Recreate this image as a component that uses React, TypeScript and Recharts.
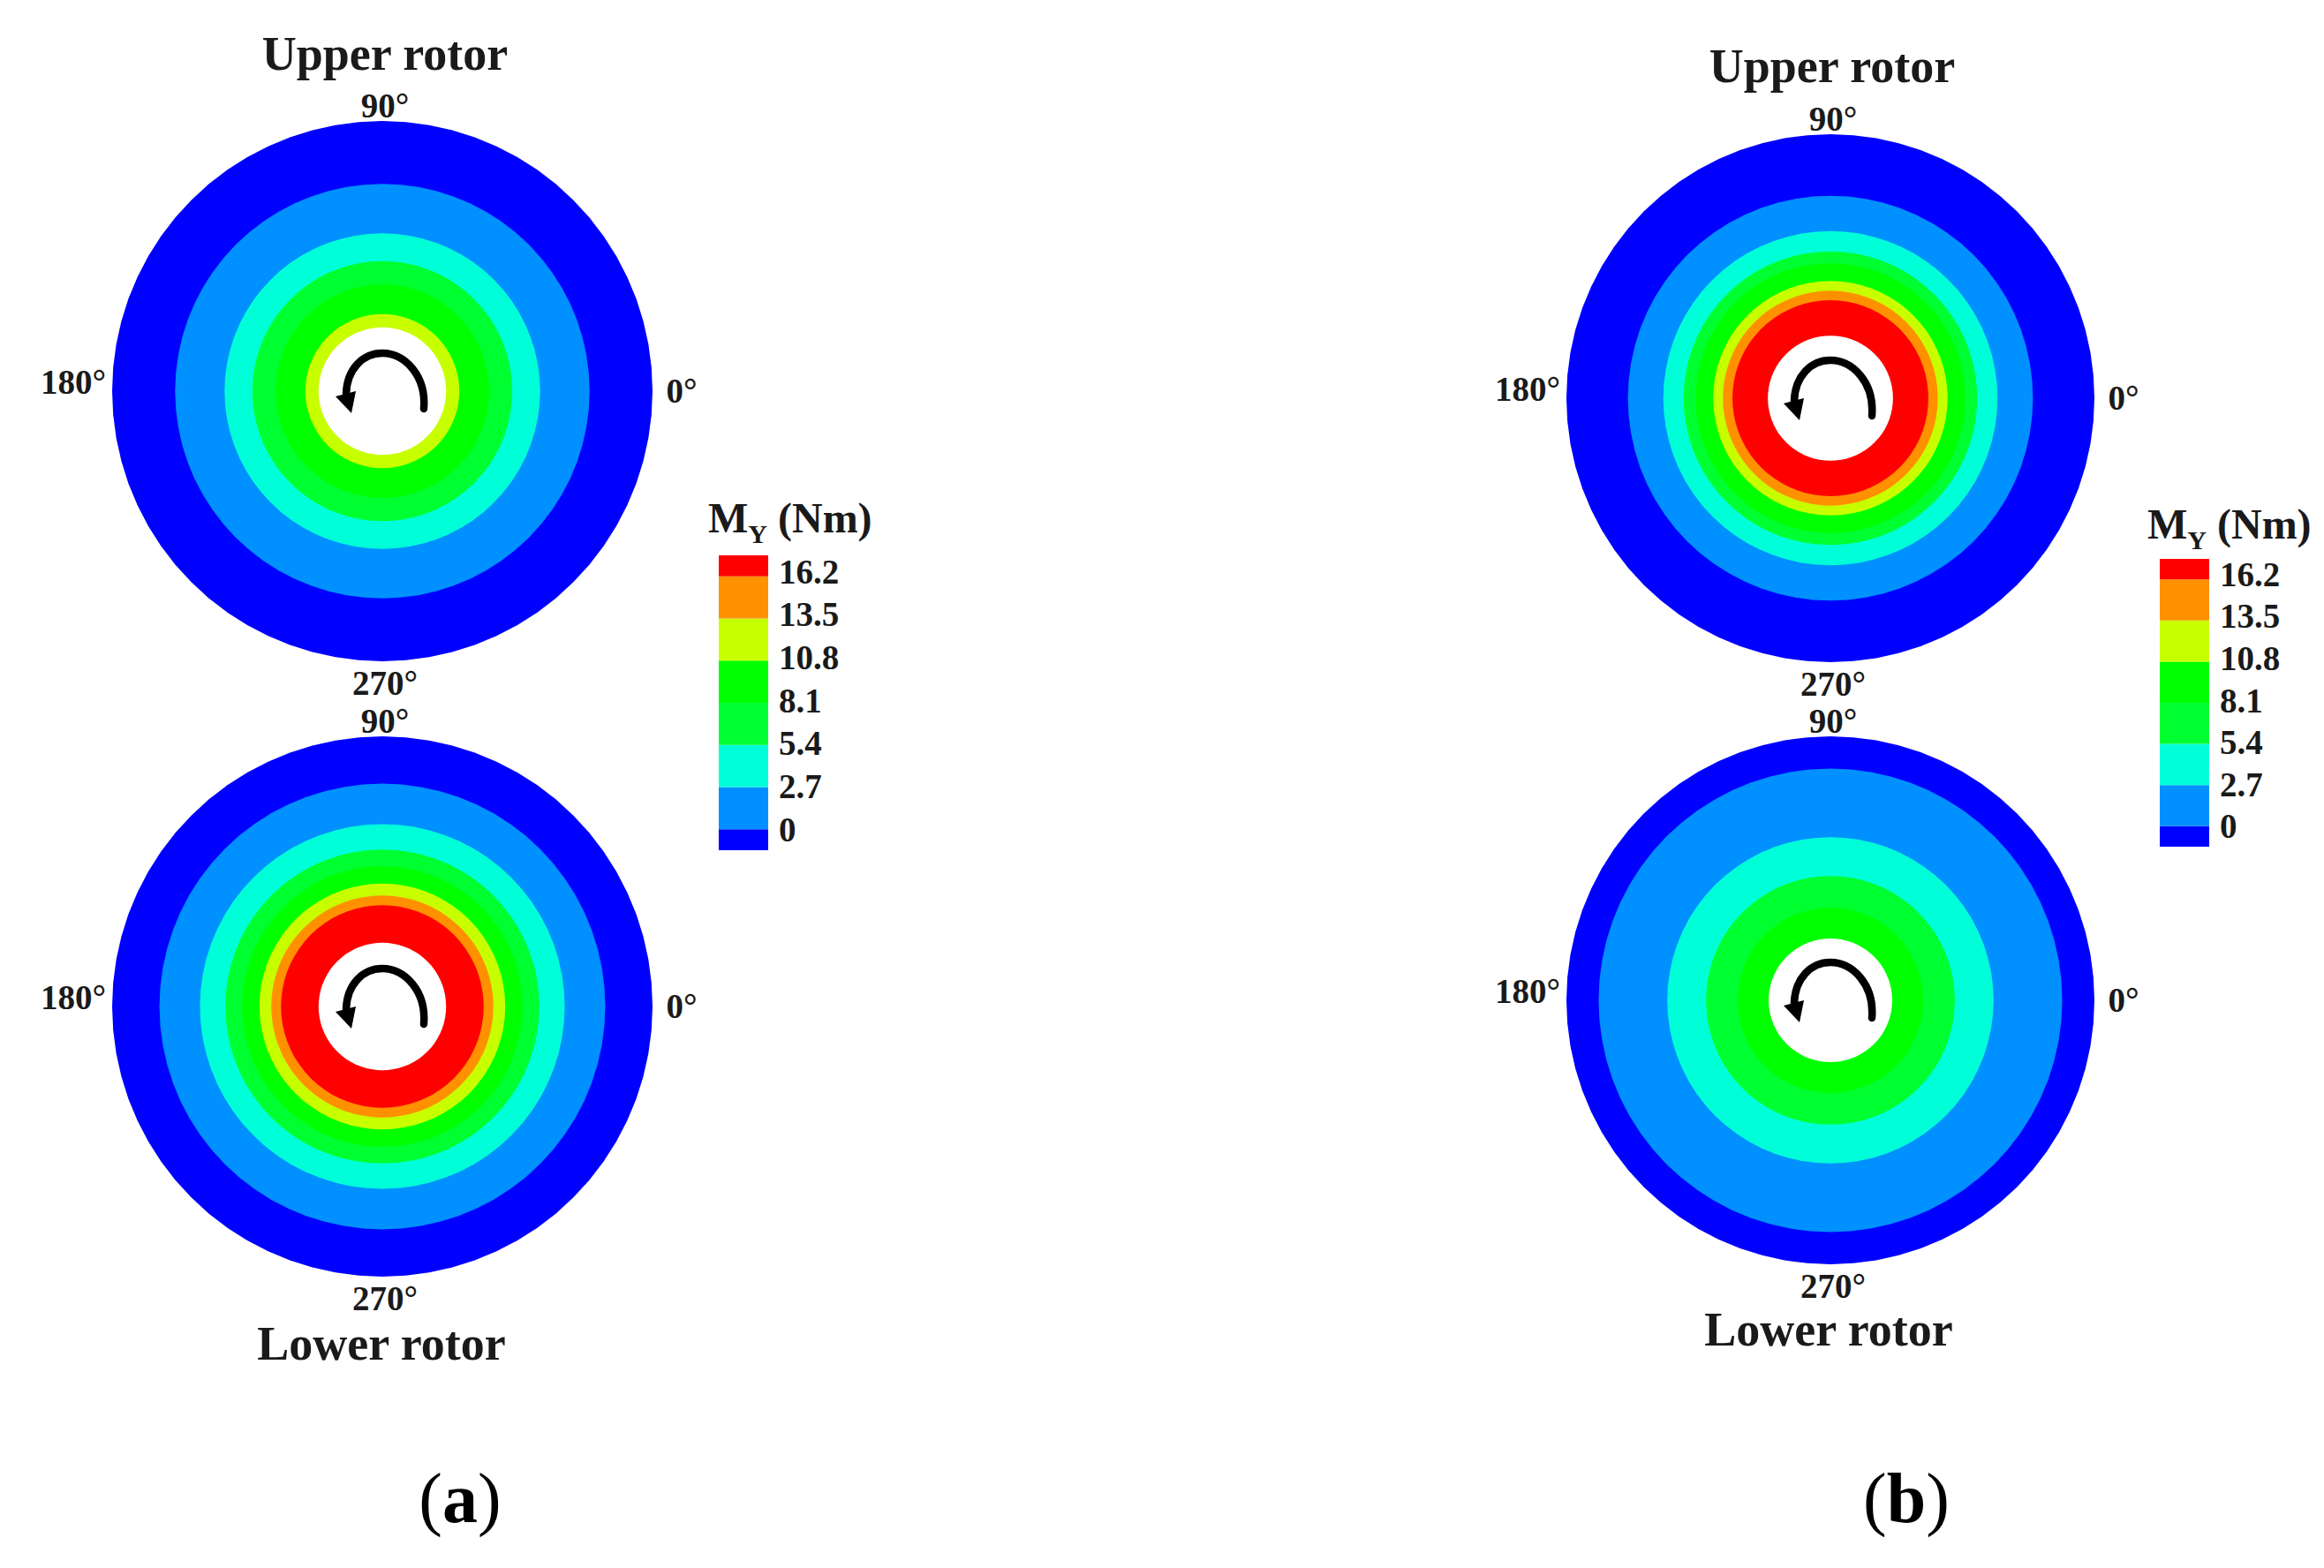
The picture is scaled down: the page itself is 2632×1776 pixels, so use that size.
import { Bar, BarChart, PolarAngleAxis, PolarRadiusAxis, Radar, RadarChart, XAxis, YAxis } from 'recharts';

const SERIF = '"Liberation Serif", serif';

// contour bands, lowest level first
const bandColors = ['#0000ff', '#0090ff', '#00ffd8', '#00ff30', '#00ff00', '#c8ff00', '#ff9000', '#ff0000'];

// outer edge of each band as r / R, last entry is the hub
const upperA = [1, 0.767, 0.584, 0.481, 0.395, 0.285, null, null, 0.236];
const lowerA = [1, 0.825, 0.675, 0.581, 0.519, 0.455, 0.411, 0.375, 0.236];
const upperB = [1, 0.767, 0.633, 0.556, 0.511, 0.444, 0.407, 0.371, 0.237];
const lowerB = [1, 0.878, 0.618, 0.471, 0.351, null, null, null, 0.234];

const azimuths = Array.from({ length: 72 }, (_, i) => i * 5);

// colour bar: half bands at both ends
const legendKeys = ['m0', 'm1', 'm2', 'm3', 'm4', 'm5', 'm6', 'm7'];
const legendWidths = [-1.35, 2.7, 2.7, 2.7, 2.7, 2.7, 2.7, 1.35];
const legendTicks = [0, 2.7, 5.4, 8.1, 10.8, 13.5, 16.2];

const labelShift: Record<number, [number, number]> = {
  0: [25, -1],
  90: [3, -10],
  180: [-36, -11],
  270: [3, 16],
};

const AzimuthTick = (props: any) => {
  const shift = labelShift[props.payload.value];
  if (!shift) return <g />;
  return (
    <text
      x={props.x + shift[0]}
      y={props.y + shift[1]}
      textAnchor="middle"
      dominantBaseline="central"
      fontFamily={SERIF}
      fontSize={39}
      fontWeight={700}
      fill="#1a1a1a"
    >
      {props.payload.value}°
    </text>
  );
};

// labels in the reference creep up a little towards the top of the bar
const LegendTick = (props: any) => (
  <text
    x={props.x}
    y={props.y - props.payload.value * 0.36}
    dominantBaseline="central"
    fontFamily={SERIF}
    fontSize={39}
    fontWeight={700}
    fill="#1a1a1a"
  >
    {props.payload.value}
  </text>
);

interface DiscProps {
  bands: (number | null)[];
  cx: number;
  cy: number;
  R: number;
}

const Disc = ({ bands, cx, cy, R }: DiscProps) => {
  const half = R + 100;
  const rows = azimuths.map((angle) => {
    const row: Record<string, number | null> = { angle };
    bands.forEach((b, i) => {
      row[`b${i}`] = b;
    });
    return row;
  });
  return (
    <div style={{ position: 'absolute', left: cx - half, top: cy - half }}>
      <RadarChart
        width={half * 2}
        height={half * 2}
        data={rows}
        cx={half}
        cy={half}
        outerRadius={R}
        startAngle={5}
        endAngle={365}
        margin={{ top: 0, right: 0, bottom: 0, left: 0 }}
      >
        <PolarAngleAxis dataKey="angle" tick={AzimuthTick} tickLine={false} axisLine={false} tickSize={0} />
        <PolarRadiusAxis domain={[0, 1]} tick={false} axisLine={false} />
        {bands.map((b, i) =>
          b === null ? null : (
            <Radar
              key={i}
              dataKey={`b${i}`}
              fill={i === bands.length - 1 ? '#ffffff' : bandColors[i]}
              fillOpacity={1}
              stroke="none"
              dot={false}
              isAnimationActive={false}
            />
          ),
        )}
      </RadarChart>
      <svg
        width={half * 2}
        height={half * 2}
        style={{ position: 'absolute', left: 0, top: 0, pointerEvents: 'none' }}
      >
        <g transform={`translate(${half},${half})`}>
          <path
            d="M47 20 C50 -18 25 -43 0 -43 C-22 -43 -40 -25 -41 3"
            fill="none"
            stroke="#000000"
            strokeWidth={8.5}
            strokeLinecap="round"
          />
          <path d="M-53 6 L-30 0 L-35 25 Z" fill="#000000" />
        </g>
      </svg>
    </div>
  );
};

const ColorBar = ({ left, top, height }: { left: number; top: number; height: number }) => {
  const pad = 16;
  const row: Record<string, number> = {};
  legendKeys.forEach((k, i) => {
    row[k] = legendWidths[i];
  });
  return (
    <div style={{ position: 'absolute', left, top: top - pad }}>
      <BarChart
        width={180}
        height={height + pad * 2}
        data={[row]}
        stackOffset="sign"
        barCategoryGap={0}
        margin={{ top: pad, right: 0, bottom: pad, left: 0 }}
      >
        <XAxis hide type="category" />
        <YAxis
          orientation="right"
          width={124}
          domain={[-1.35, 17.55]}
          ticks={legendTicks}
          interval={0}
          axisLine={false}
          tickLine={false}
          tickMargin={6}
          tick={LegendTick}
        />
        {legendKeys.map((k, i) => (
          <Bar key={k} dataKey={k} stackId="bar" fill={bandColors[i]} isAnimationActive={false} />
        ))}
      </BarChart>
    </div>
  );
};

const Title = ({ x, y, children }: { x: number; y: number; children: string }) => (
  <text x={x} y={y} textAnchor="middle" fontFamily={SERIF} fontSize={54} fontWeight={700} fill="#1a1a1a">
    {children}
  </text>
);

const LegendTitle = ({ x, y }: { x: number; y: number }) => (
  <text x={x} y={y} fontFamily={SERIF} fontSize={48} fontWeight={700} fill="#1a1a1a">
    M
    <tspan dy={12} fontSize={30}>
      Y
    </tspan>
    <tspan dy={-12}> (Nm)</tspan>
  </text>
);

const PanelTag = ({ x, children }: { x: number; children: string }) => (
  <text x={x} y={1724} textAnchor="middle" fontFamily={SERIF} fontSize={80} fill="#000000">
    (<tspan fontWeight={700}>{children}</tspan>)
  </text>
);

export default function App() {
  return (
    <div
      style={{
        position: 'absolute',
        left: 0,
        top: 0,
        width: 2632,
        height: 1776,
        background: '#ffffff',
        overflow: 'hidden',
      }}
    >
      <Disc bands={upperA} cx={433} cy={443} R={306} />
      <Disc bands={lowerA} cx={433} cy={1140} R={306} />
      <Disc bands={upperB} cx={2073} cy={451} R={299} />
      <Disc bands={lowerB} cx={2073} cy={1133} R={299} />

      <ColorBar left={814} top={629} height={334} />
      <ColorBar left={2446} top={633} height={326} />

      <svg width={2632} height={1776} style={{ position: 'absolute', left: 0, top: 0, pointerEvents: 'none' }}>
        <Title x={436} y={79}>Upper rotor</Title>
        <Title x={432} y={1540}>Lower rotor</Title>
        <Title x={2075} y={93}>Upper rotor</Title>
        <Title x={2071} y={1524}>Lower rotor</Title>
        <LegendTitle x={802} y={603} />
        <LegendTitle x={2432} y={610} />
        <PanelTag x={521}>a</PanelTag>
        <PanelTag x={2159}>b</PanelTag>
      </svg>
    </div>
  );
}
